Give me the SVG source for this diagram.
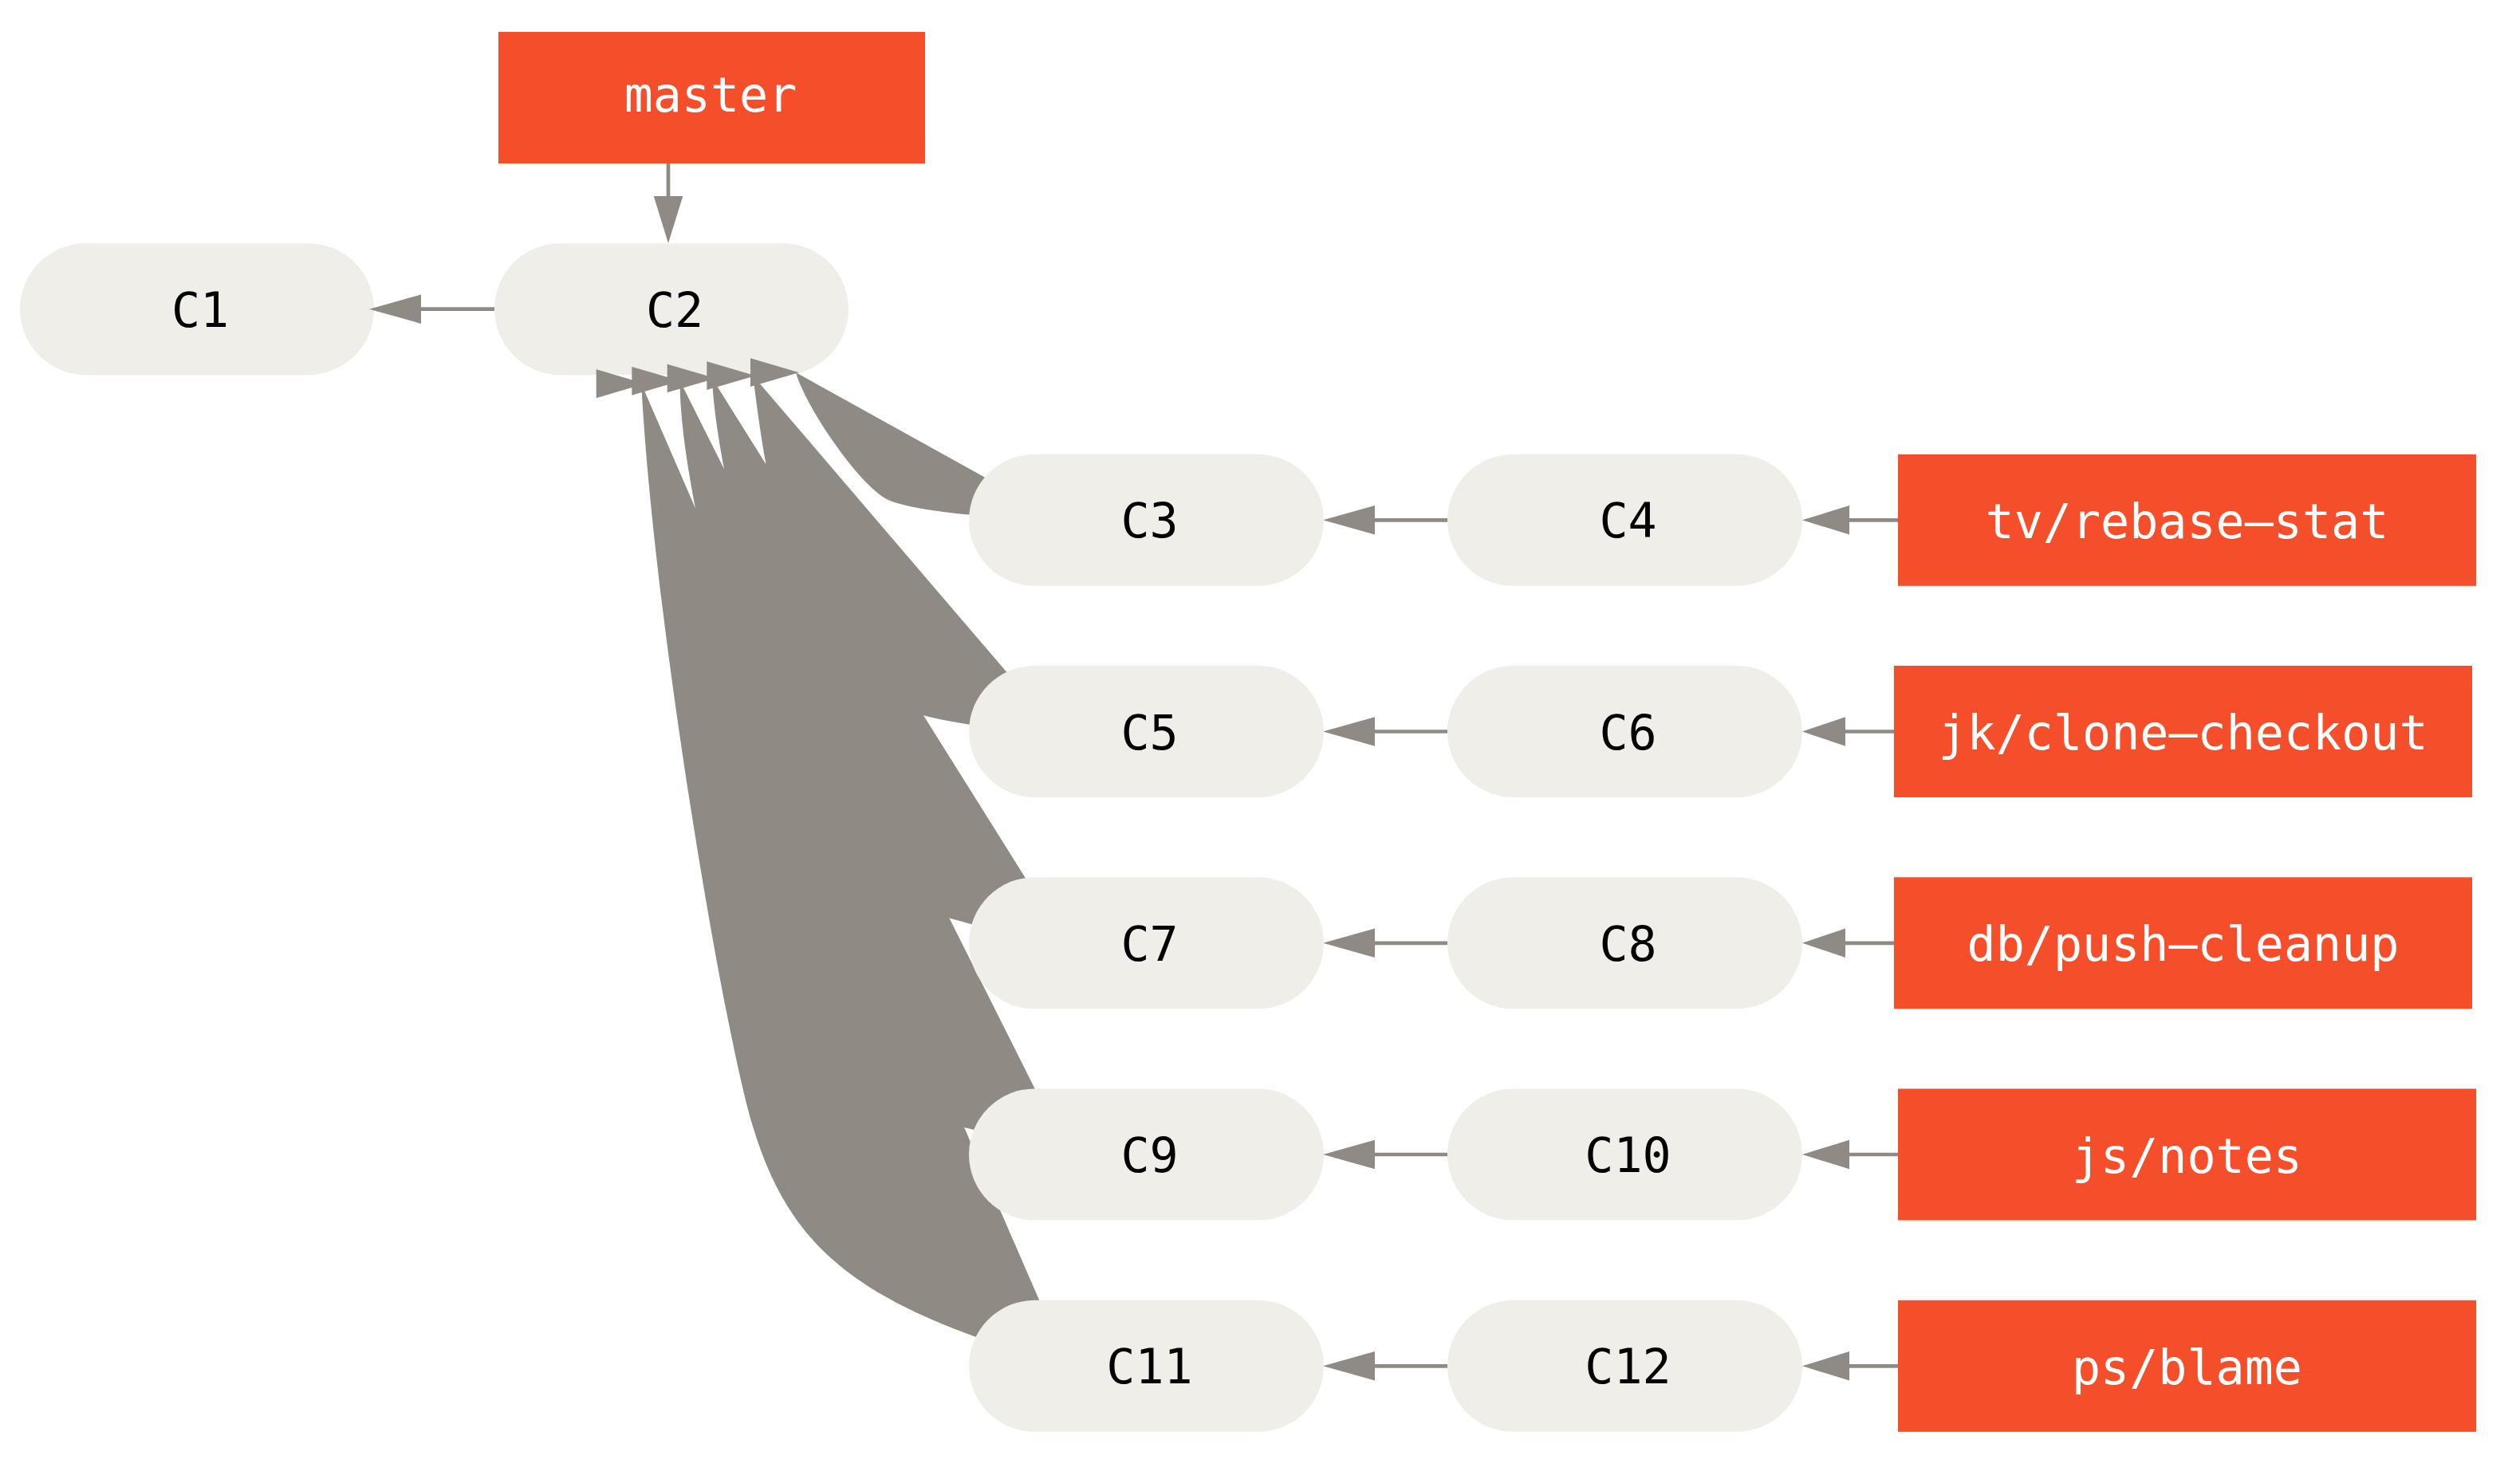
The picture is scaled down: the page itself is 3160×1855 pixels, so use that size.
<svg xmlns="http://www.w3.org/2000/svg" width="3160" height="1855" viewBox="0 0 3160 1855">
<style>
.commit rect{fill:#efeee8}
.branch rect{fill:#f44e2a}
text{font-family:"DejaVu Sans Mono","Liberation Mono",monospace;font-size:60px;text-anchor:middle}
.commit text{fill:#000}
.branch text{fill:#fff}
.ln{stroke:#8f8a83;stroke-width:4.7;fill:none}
.ah,.blob{fill:#8f8a83;stroke:none}
</style>
<rect width="3160" height="1855" fill="#fff"/>
<g id="C1" class="commit"><rect x="25" y="305.2" width="444" height="165" rx="82.5"/><text x="251" y="409.7">C1</text></g>
<g id="C2" class="commit"><rect x="620" y="305.2" width="444" height="165" rx="82.5"/><text x="846" y="409.7">C2</text></g>
<g id="connectors">
<path class="blob" d="M804.2,481.3 C820,780 907,1290 943.5,1411 C991.5,1571 1080,1640 1339,1713.3 Z"/>
<path class="blob" d="M852.7,477.8 C850,680 1060,1380 1211,1414.5 C1250,1423 1290,1445 1339,1448 Z"/>
<path class="blob" d="M893,474.5 C900,640 1030,1110 1192,1152 C1230,1162 1285,1180 1337,1182.8 Z"/>
<path class="blob" d="M944.3,471.2 C962,620 1000,860 1157,897 C1200,908 1260,917 1326,917.5 Z"/>
<path class="blob" d="M998,467.2 C1010,510 1075,605 1110,625 C1140,642 1250,650 1331.5,652.3 Z"/>
<polygon class="ah" points="747.7,463.3 808.7,481.3 747.7,499.3"/>
<polygon class="ah" points="792.3,460 853.3,477.8 792.3,495.7"/>
<polygon class="ah" points="836.7,456.7 897.7,474.5 836.7,492.3"/>
<polygon class="ah" points="886.3,453.3 947.3,471.2 886.3,489"/>
<polygon class="ah" points="941,449.3 1002,467.2 941,485"/>
<line class="ln" x1="620" y1="387.7" x2="526" y2="387.7"/>
<polygon class="ah" points="528,369.5 463,387.7 528,405.9"/>
<line class="ln" x1="838" y1="204.5" x2="838" y2="248"/>
<polygon class="ah" points="819.7,246 838,305 856.3,246"/>
<line class="ln" x1="1815" y1="652.3" x2="1722" y2="652.3"/>
<polygon class="ah" points="1724,634.1 1659,652.3 1724,670.5"/>
<line class="ln" x1="1815" y1="917.5" x2="1722" y2="917.5"/>
<polygon class="ah" points="1724,899.3 1659,917.5 1724,935.7"/>
<line class="ln" x1="1815" y1="1182.8" x2="1722" y2="1182.8"/>
<polygon class="ah" points="1724,1164.6 1659,1182.8 1724,1201"/>
<line class="ln" x1="1815" y1="1448" x2="1722" y2="1448"/>
<polygon class="ah" points="1724,1429.8 1659,1448 1724,1466.2"/>
<line class="ln" x1="1815" y1="1713.3" x2="1722" y2="1713.3"/>
<polygon class="ah" points="1724,1695.1 1659,1713.3 1724,1731.5"/>
<line class="ln" x1="2380" y1="652.3" x2="2317" y2="652.3"/>
<polygon class="ah" points="2319,634.1 2260,652.3 2319,670.5"/>
<line class="ln" x1="2375" y1="917.5" x2="2312" y2="917.5"/>
<polygon class="ah" points="2314,899.3 2260,917.5 2314,935.7"/>
<line class="ln" x1="2375" y1="1182.8" x2="2312" y2="1182.8"/>
<polygon class="ah" points="2314,1164.6 2260,1182.8 2314,1201"/>
<line class="ln" x1="2380" y1="1448" x2="2317" y2="1448"/>
<polygon class="ah" points="2319,1429.8 2260,1448 2319,1466.2"/>
<line class="ln" x1="2380" y1="1713.3" x2="2317" y2="1713.3"/>
<polygon class="ah" points="2319,1695.1 2260,1713.3 2319,1731.5"/>
</g>
<g id="C3" class="commit"><rect x="1215" y="569.8" width="445" height="165" rx="82.5"/><text x="1441.5" y="674.3">C3</text></g>
<g id="C4" class="commit"><rect x="1815" y="569.8" width="445" height="165" rx="82.5"/><text x="2041.5" y="674.3">C4</text></g>
<g id="C5" class="commit"><rect x="1215" y="835" width="445" height="165" rx="82.5"/><text x="1441.5" y="939.5">C5</text></g>
<g id="C6" class="commit"><rect x="1815" y="835" width="445" height="165" rx="82.5"/><text x="2041.5" y="939.5">C6</text></g>
<g id="C7" class="commit"><rect x="1215" y="1100.3" width="445" height="165" rx="82.5"/><text x="1441.5" y="1204.8">C7</text></g>
<g id="C8" class="commit"><rect x="1815" y="1100.3" width="445" height="165" rx="82.5"/><text x="2041.5" y="1204.8">C8</text></g>
<g id="C9" class="commit"><rect x="1215" y="1365.5" width="445" height="165" rx="82.5"/><text x="1441.5" y="1470">C9</text></g>
<g id="C10" class="commit"><rect x="1815" y="1365.5" width="445" height="165" rx="82.5"/><text x="2041.5" y="1470">C10</text></g>
<g id="C11" class="commit"><rect x="1215" y="1630.8" width="445" height="165" rx="82.5"/><text x="1441.5" y="1735.3">C11</text></g>
<g id="C12" class="commit"><rect x="1815" y="1630.8" width="445" height="165" rx="82.5"/><text x="2041.5" y="1735.3">C12</text></g>
<g id="master" class="branch"><rect x="625" y="40" width="535" height="165"/><text x="891" y="140">master</text></g>
<g id="tv-rebase-stat" class="branch"><rect x="2380" y="569.8" width="725" height="165"/><text x="2742.5" y="674.8">tv/rebase–stat</text></g>
<g id="jk-clone-checkout" class="branch"><rect x="2375" y="835" width="725" height="165"/><text x="2737.5" y="940">jk/clone–checkout</text></g>
<g id="db-push-cleanup" class="branch"><rect x="2375" y="1100.3" width="725" height="165"/><text x="2737.5" y="1205.3">db/push–cleanup</text></g>
<g id="js-notes" class="branch"><rect x="2380" y="1365.5" width="725" height="165"/><text x="2742.5" y="1470.5">js/notes</text></g>
<g id="ps-blame" class="branch"><rect x="2380" y="1630.8" width="725" height="165"/><text x="2742.5" y="1735.8">ps/blame</text></g>
</svg>
